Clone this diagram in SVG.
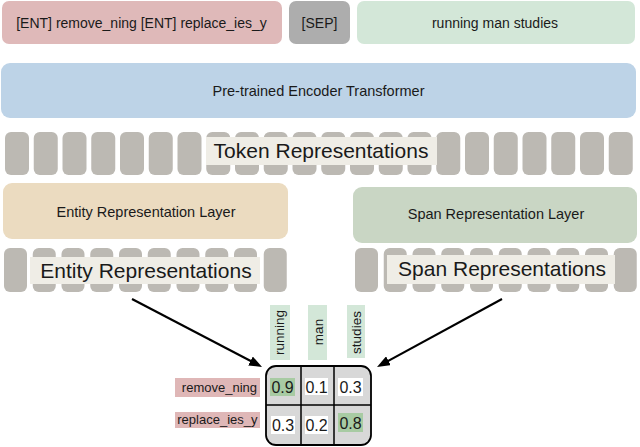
<svg xmlns="http://www.w3.org/2000/svg" width="640" height="447" viewBox="0 0 640 447">
  <style>
    text { font-family: "Liberation Sans", Arial, sans-serif; fill: #1a1a1a; }
    .mid { text-anchor: middle; }
    .tok { fill: #bcb9b3; }
    .lbl { fill: #efede6; }
    .big { font-size: 21px; }
    .lay { font-size: 14.5px; }
    .top { font-size: 14px; }
    .cell { fill: #ffffff; }
    .hot { fill: #a8cba3; }
    .num { font-size: 16px; text-anchor: middle; }
    .colbg { fill: #d3e7d8; }
    .rowbg { fill: #dfb7b7; }
    .side { font-size: 13px; }
    .arrow { stroke: #000; stroke-width: 2.2; fill: none; }
  </style>
  <defs>
    <rect id="tb" width="24" height="43" rx="6" class="tok"/>
    <rect id="rb" width="23" height="44" rx="6" class="tok"/>
    <marker id="ah" viewBox="0 0 13 10" refX="7" refY="5" markerWidth="13" markerHeight="10" markerUnits="userSpaceOnUse" orient="auto">
      <path d="M0,0 L13,5 L0,10 z" fill="#000"/>
    </marker>
  </defs>

  <g id="input-entities">
    <rect x="2" y="1" width="280" height="43" rx="7" fill="#dfb9b9"/>
    <text class="top mid" x="141.5" y="28">[ENT] remove_ning [ENT] replace_ies_y</text>
  </g>
  <g id="input-sep">
    <rect x="289" y="1" width="61" height="43" rx="7" fill="#adadad"/>
    <text class="top mid" x="319.5" y="28">[SEP]</text>
  </g>
  <g id="input-text">
    <rect x="357" y="1" width="278" height="43" rx="7" fill="#d3e7d8"/>
    <text class="top mid" x="495" y="27.5">running man studies</text>
  </g>

  <g id="encoder">
    <rect x="1" y="63" width="635" height="55" rx="9" fill="#bdd3e7"/>
    <text class="lay mid" x="318.5" y="96">Pre-trained Encoder Transformer</text>
  </g>

  <g id="token-representations">
    <use href="#tb" x="5" y="132"/>
    <use href="#tb" x="33.75" y="132"/>
    <use href="#tb" x="62.5" y="132"/>
    <use href="#tb" x="91.25" y="132"/>
    <use href="#tb" x="120" y="132"/>
    <use href="#tb" x="148.75" y="132"/>
    <use href="#tb" x="177.5" y="132"/>
    <use href="#tb" x="206.25" y="132"/>
    <use href="#tb" x="235" y="132"/>
    <use href="#tb" x="263.75" y="132"/>
    <use href="#tb" x="292.5" y="132"/>
    <use href="#tb" x="321.25" y="132"/>
    <use href="#tb" x="350" y="132"/>
    <use href="#tb" x="378.75" y="132"/>
    <use href="#tb" x="407.5" y="132"/>
    <use href="#tb" x="436.25" y="132"/>
    <use href="#tb" x="465" y="132"/>
    <use href="#tb" x="493.75" y="132"/>
    <use href="#tb" x="522.5" y="132"/>
    <use href="#tb" x="551.25" y="132"/>
    <use href="#tb" x="580" y="132"/>
    <use href="#tb" x="608.75" y="132"/>
    <rect class="lbl" x="206" y="137" width="231" height="28"/>
    <text class="big mid" x="321" y="158">Token Representations</text>
  </g>

  <g id="entity-layer">
    <rect x="3" y="183" width="285" height="56" rx="9" fill="#ebdbc0"/>
    <text class="lay mid" x="146" y="217">Entity Representation Layer</text>
  </g>
  <g id="span-layer">
    <rect x="353" y="187" width="284" height="56" rx="9" fill="#c9d6c4"/>
    <text class="lay mid" x="496" y="219">Span Representation Layer</text>
  </g>

  <g id="entity-representations">
    <use href="#rb" x="4" y="248"/>
    <use href="#rb" x="32.75" y="248"/>
    <use href="#rb" x="61.5" y="248"/>
    <use href="#rb" x="90.25" y="248"/>
    <use href="#rb" x="119" y="248"/>
    <use href="#rb" x="147.75" y="248"/>
    <use href="#rb" x="176.5" y="248"/>
    <use href="#rb" x="205.25" y="248"/>
    <use href="#rb" x="234" y="248"/>
    <use href="#rb" x="263.75" y="248"/>
    <rect class="lbl" x="30" y="257" width="230" height="27"/>
    <text class="big mid" x="146" y="278">Entity Representations</text>
  </g>

  <g id="span-representations">
    <use href="#rb" x="355" y="248"/>
    <use href="#rb" x="383.75" y="248"/>
    <use href="#rb" x="412.5" y="248"/>
    <use href="#rb" x="441.25" y="248"/>
    <use href="#rb" x="470" y="248"/>
    <use href="#rb" x="498.75" y="248"/>
    <use href="#rb" x="527.5" y="248"/>
    <use href="#rb" x="556.25" y="248"/>
    <use href="#rb" x="585" y="248"/>
    <use href="#rb" x="613.75" y="248"/>
    <rect class="lbl" x="387" y="255" width="228" height="29"/>
    <text class="big mid" x="502" y="276">Span Representations</text>
  </g>

  <g id="connectors">
    <line class="arrow" x1="132" y1="299" x2="256.7" y2="364.2" marker-end="url(#ah)"/>
    <line class="arrow" x1="502" y1="299" x2="382.3" y2="364.1" marker-end="url(#ah)"/>
  </g>

  <g id="column-labels">
    <rect class="colbg" x="270" y="305" width="20" height="55"/>
    <text class="side mid" style="font-size:13.5px" transform="translate(283.5,332.5) rotate(-90)">running</text>
    <rect class="colbg" x="308" y="305" width="19" height="55"/>
    <text class="side mid" style="font-size:13.5px" transform="translate(322.5,332) rotate(-90)">man</text>
    <rect class="colbg" x="347" y="305" width="18" height="53"/>
    <text class="side mid" style="font-size:13.5px" transform="translate(361,332.5) rotate(-90)">studies</text>
  </g>

  <g id="row-labels">
    <rect class="rowbg" x="175" y="378" width="85" height="19"/>
    <text class="side" x="257" y="392" text-anchor="end">remove_ning</text>
    <rect class="rowbg" x="175" y="412" width="85" height="16"/>
    <text class="side" x="257.5" y="424" text-anchor="end">replace_ies_y</text>
  </g>

  <g id="score-matrix">
    <rect x="266" y="366" width="105" height="79" rx="10" fill="#d8d8d8" stroke="#000" stroke-width="1.8"/>
    <line x1="301" y1="366" x2="301" y2="445" stroke="#000" stroke-width="1.5"/>
    <line x1="334" y1="366" x2="334" y2="445" stroke="#000" stroke-width="1.5"/>
    <line x1="266" y1="405" x2="371" y2="405" stroke="#000" stroke-width="1.5"/>
    <rect class="hot" x="270" y="378" width="25" height="18"/>
    <text class="num" x="282.5" y="393">0.9</text>
    <rect class="cell" x="305" y="378" width="23" height="17"/>
    <text class="num" x="316.5" y="392.5">0.1</text>
    <rect class="cell" x="338" y="378" width="25" height="18"/>
    <text class="num" x="350.5" y="393">0.3</text>
    <rect class="cell" x="271" y="416" width="24" height="18"/>
    <text class="num" x="283" y="431">0.3</text>
    <rect class="cell" x="305" y="416" width="23" height="18"/>
    <text class="num" x="316.5" y="431">0.2</text>
    <rect class="hot" x="338" y="413" width="25" height="19"/>
    <text class="num" x="350.5" y="429">0.8</text>
  </g>
</svg>
